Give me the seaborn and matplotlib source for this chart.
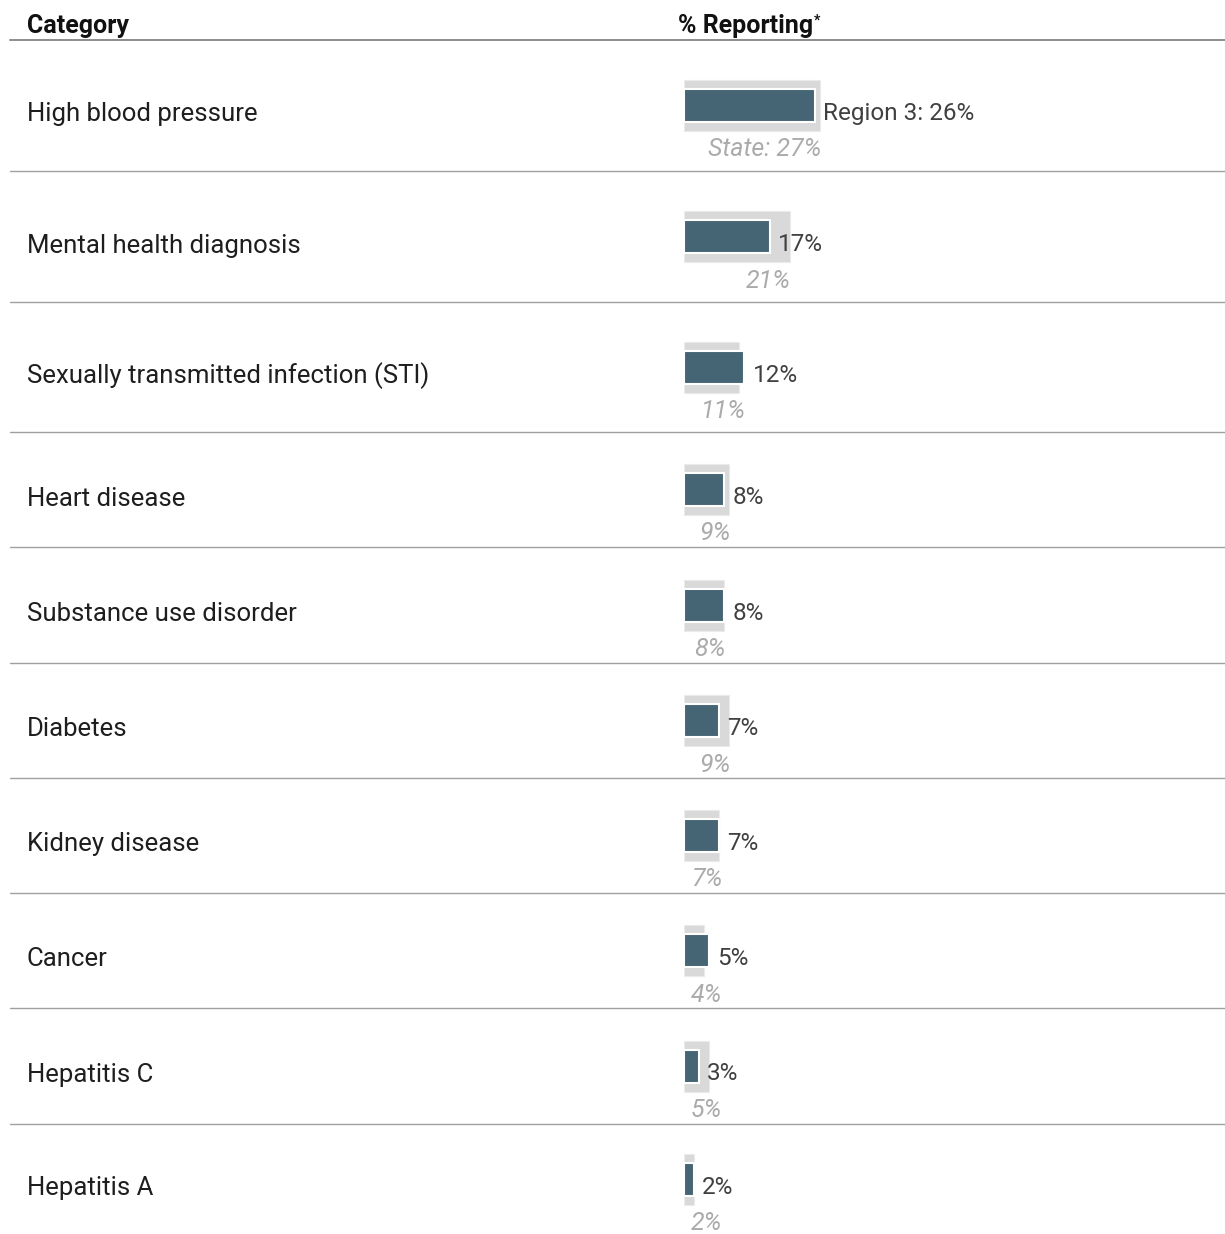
import matplotlib
matplotlib.use("Agg")
import matplotlib.pyplot as plt
from matplotlib.lines import Line2D
from matplotlib.transforms import offset_copy, blended_transform_factory
import pandas as pd
import seaborn as sns

# ---- data -------------------------------------------------------------
categories = [
    "High blood pressure",
    "Mental health diagnosis",
    "Sexually transmitted infection (STI)",
    "Heart disease",
    "Substance use disorder",
    "Diabetes",
    "Kidney disease",
    "Cancer",
    "Hepatitis C",
    "Hepatitis A",
]
region_pct = [26, 17, 12, 8, 8, 7, 7, 5, 3, 2]
state_pct = [27, 21, 11, 9, 8, 9, 7, 4, 5, 2]
region_name = "Region 3"

# ---- style ------------------------------------------------------------
sns.set_theme(style="white")
plt.rcParams["font.family"] = ["Roboto", "DejaVu Sans"]

DARK = "#466574"
LIGHT = "#d9d9d9"
W, H = 1225, 1234
DPI = 100

fig = plt.figure(figsize=(W / DPI, H / DPI), dpi=DPI)
fig.patch.set_facecolor("white")

# row layout (pixels from top)
row_tops = [40, 171, 302, 432, 547, 663, 778, 893, 1008, 1124]
row_bottoms = row_tops[1:] + [1234]
bar_left = 684
px_per_pct = 5.04
x_max = (W - bar_left) / px_per_pct

# header
fig.text(27 / W, 1 - 33 / H, "Category", fontsize=18, fontweight="bold",
         color="#111111", ha="left", va="baseline")
hdr = fig.text(678 / W, 1 - 33 / H, "% Reporting", fontsize=18,
               fontweight="bold", color="#111111", ha="left", va="baseline")

# separators
fig.add_artist(Line2D([10 / W, 1], [1 - 40 / H] * 2, transform=fig.transFigure,
                      color="#8c8c8c", linewidth=1.4))
for top in row_tops[1:]:
    fig.add_artist(Line2D([10 / W, 1], [1 - top / H] * 2,
                          transform=fig.transFigure, color="#a0a0a0",
                          linewidth=1.0))

for i, cat in enumerate(categories):
    top, bot = row_tops[i], row_bottoms[i]
    h = bot - top
    ax = fig.add_axes([bar_left / W, 1 - bot / H, (W - bar_left) / W, h / H])
    df = pd.DataFrame({"category": [cat], "region": [region_pct[i]],
                       "state": [state_pct[i]]})
    sns.barplot(data=df, x="state", y="category", orient="h", color=LIGHT,
                saturation=1, width=51 / h, edgecolor="#ebebeb", linewidth=0.8,
                ax=ax)
    sns.barplot(data=df, x="region", y="category", orient="h", color=DARK,
                saturation=1, width=33 / h, edgecolor="white", linewidth=1.5,
                ax=ax)
    ax.set_xlim(0, x_max)
    ax.set_ylim(0.5, -0.5)
    ax.set_axis_off()

    # category name on the left
    trans_cat = offset_copy(blended_transform_factory(fig.transFigure, ax.transData),
                            fig=fig, x=0, y=-16, units="dots")
    ax.text(27 / W, 0, cat, transform=trans_cat, fontsize=18.5,
            color="#1e1e1e", ha="left", va="baseline")

    # region value label right of the dark bar
    r = region_pct[i]
    rlabel = f"{region_name}: {r}%" if i == 0 else f"{r}%"
    trans_r = offset_copy(ax.transData, fig=fig, x=8, y=-14.5, units="dots")
    ax.text(r, 0, rlabel, transform=trans_r, fontsize=17.5, color="#404040",
            ha="left", va="baseline")

    # state value label under the bars
    s = state_pct[i]
    slabel = f"State: {s}%" if i == 0 else f"{s}%"
    x_right = max(max(s, r) + 0.2, 7.6)
    trans_s = offset_copy(ax.transData, fig=fig, x=0, y=-51, units="dots")
    ax.text(x_right, 0, slabel, transform=trans_s, fontsize=18,
            fontstyle="italic", color="#ababab", ha="right", va="baseline")

# superscript footnote marker after the header
fig.canvas.draw()
bb = hdr.get_window_extent()
fig.text(bb.x1 / W + 1 / W, bb.y1 / H, "*", fontsize=10, fontweight="bold",
         color="#111111", ha="left", va="top")

fig.savefig("out.png", dpi=DPI, facecolor="white")
